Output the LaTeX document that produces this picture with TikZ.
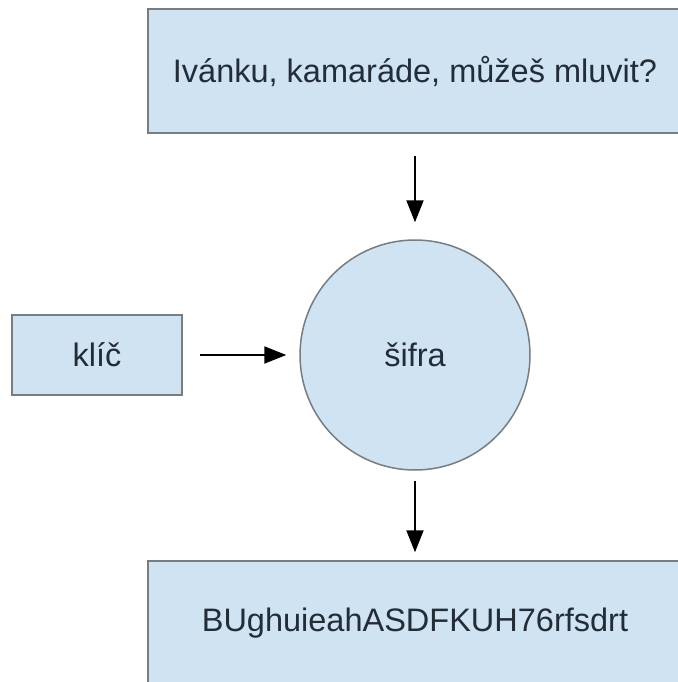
\documentclass[tikz,border=0pt]{standalone}
\usepackage{fontspec}
\setmainfont{Liberation Sans}
\usetikzlibrary{arrows.meta}
\definecolor{boxblue}{RGB}{207,227,243}
\definecolor{boxline}{RGB}{120,125,130}
\definecolor{textgray}{RGB}{35,45,55}

\begin{document}
\begin{tikzpicture}
  [x=1pt, y=-1pt]
  \tikzstyle{box} = [draw=boxline, fill=boxblue, line width=1.5pt, inner sep=0pt, text=textgray, font=\fontsize{32.5}{38}\selectfont];
  \tikzstyle{wide_box} = [box, minimum width=534pt, minimum height=124pt];
  \tikzstyle{key_box}  = [box, minimum width=170pt, minimum height=80pt];
  \tikzstyle{cipher}   = [box, circle, minimum size=230pt];
  \tikzstyle{flow}     = [-{Triangle[width=17pt,length=22pt]}, line width=2pt, black];

  \useasboundingbox (0,0) rectangle (677,682);
  \fill[white] (0,0) rectangle (677,682);

  \node[wide_box] (plain)  at (415, 71)  {Ivánku, kamaráde, můžeš mluvit?};
  \node[key_box]  (key)    at (97, 355)  {klíč};
  \node[cipher]   (sifra)  at (415, 355) {šifra};
  \node[wide_box] (secret) at (415, 623) {BUghuieahASDFKUH76rfsdrt};

  \draw[flow, shorten <=22pt, shorten >=17pt] (plain) -- (sifra);
  \draw[flow, shorten <=17pt, shorten >=13pt] (key) -- (sifra);
  \draw[flow, shorten <=10pt, shorten >=8pt]  (sifra) -- (secret);

\end{tikzpicture}
\end{document}
